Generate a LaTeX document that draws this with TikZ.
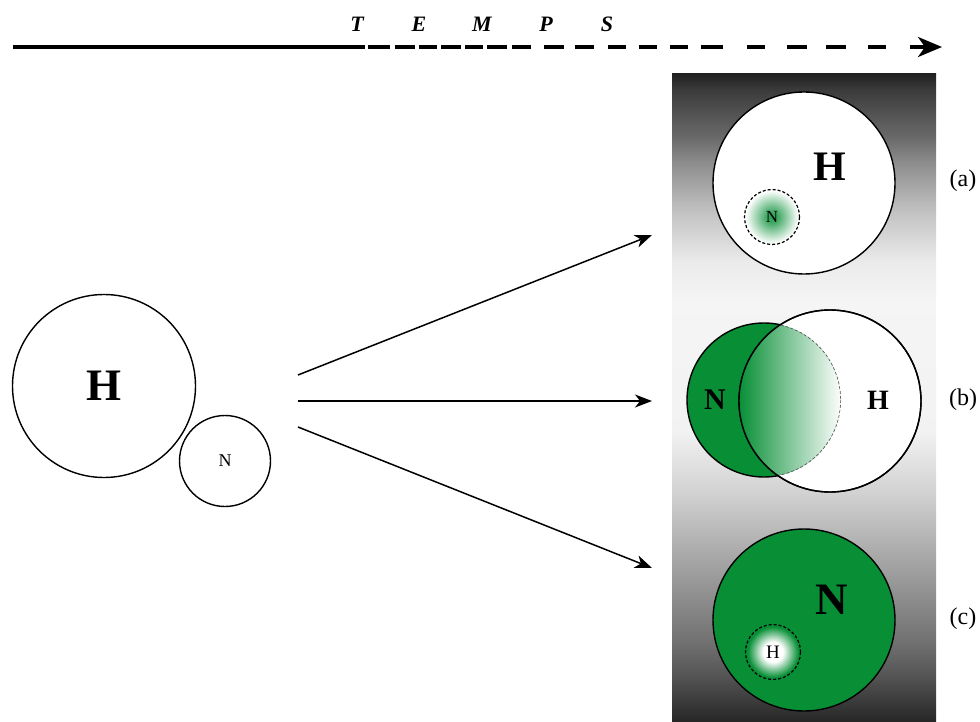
\documentclass[tikz,border=0pt]{standalone}
\usepackage{fontspec}
\setmainfont{Liberation Serif}
\usetikzlibrary{arrows.meta}
\definecolor{mygreen}{RGB}{8,143,54}
\pgfdeclareverticalshading{panelshade}{100bp}{color(0bp)=(black!85); color(25bp)=(black!85); color(29bp)=(black!65); color(31.1bp)=(black!56); color(37.5bp)=(black!35); color(42.6bp)=(black!18); color(47.5bp)=(black!5); color(57.5bp)=(black!4); color(60.5bp)=(black!8); color(64.4bp)=(black!24); color(68.2bp)=(black!45); color(70bp)=(black!58); color(73.8bp)=(black!77); color(75bp)=(black!87); color(100bp)=(black!87)}
\pgfdeclareradialshading{greenglow}{\pgfpoint{0bp}{0bp}}{color(0bp)=(mygreen!85!white); color(5bp)=(mygreen!78!white); color(24bp)=(white); color(50bp)=(white)}
\pgfdeclareradialshading{whiteglow}{\pgfpoint{0bp}{0bp}}{color(0bp)=(white); color(9bp)=(white); color(23bp)=(mygreen); color(50bp)=(mygreen)}
\tikzset{
  ring/.style={circle, draw=black, line width=1.4pt, inner sep=0pt},
  dotring/.style={draw=black, line width=1.2pt, dash pattern=on 3pt off 2pt},
  flow/.style={line width=1.5pt, -{Stealth[length=17pt,width=13pt,inset=5pt]}},
  timeline/.style={line width=3.2pt},
  letter/.style={font=\fontsize{22}{24}\selectfont\bfseries\itshape},
  tag/.style={font=\fontsize{24}{26}\selectfont}
}
\begin{document}
\begin{tikzpicture}[x=1pt,y=-1pt]
\useasboundingbox (0,0) rectangle (980,722);

% time axis
\coordinate (t0) at (13,47);
\coordinate (t1) at (365,47);
\coordinate (t2) at (368,47);
\coordinate (t3) at (942,47);
\draw[timeline] (t0) -- (t1);
\draw[timeline, dash pattern=on 22pt off 5pt on 20pt off 4pt on 18pt off 4pt on 20pt off 4pt on 18pt off 4pt on 20pt off 5pt on 19pt off 13pt on 20pt off 11pt on 19pt off 14pt on 18pt off 13pt on 18pt off 13pt on 18pt off 13pt on 22pt off 24pt on 18pt off 22pt on 20pt off 19pt on 20pt off 22pt on 18pt off 24pt on 60pt,
  -{Stealth[length=24pt,width=20pt,inset=7pt]}] (t2) -- (t3);
\node[letter] (lT) at (357,24) {T};
\node[letter] (lE) at (419,24) {E};
\node[letter] (lM) at (482,24) {M};
\node[letter] (lP) at (546,24) {P};
\node[letter] (lS) at (607,24) {S};

% panel
\shade[shading=panelshade] (672,74) rectangle (936,722);

% left pair
\node[ring, minimum size=183pt, font=\fontsize{45}{48}\selectfont\bfseries] (H0) at (104,386) {H};
\node[ring, minimum size=91pt, font=\fontsize{18}{20}\selectfont] (N0) at (225,461) {N};

% arrows
\coordinate (A0) at (298,375);
\coordinate (A1) at (652,235);
\coordinate (B0) at (298,401);
\coordinate (B1) at (652,401);
\coordinate (C0) at (298,427);
\coordinate (C1) at (652,568);
\draw[flow] (A0) -- (A1);
\draw[flow] (B0) -- (B1);
\draw[flow] (C0) -- (C1);

% (a)
\node[ring, fill=white, minimum size=182pt] (Ha) at (804,183) {};
\node[font=\fontsize{42}{44}\selectfont\bfseries] (Hal) at (830,167) {H};
\shade[shading=greenglow] (772,217) circle (27.5);
\draw[dotring] (772,217) circle (27.5);
\node[font=\fontsize{17}{19}\selectfont] (Nal) at (772,217) {N};
\node[tag] (ta) at (963,181) {(a)};

% (b)
\node[ring, fill=mygreen, minimum size=154pt] (Nb) at (764,400) {};
\node[ring, fill=white, minimum size=182pt] (Hb) at (830,401) {};
\begin{scope}
  \clip (764,400) circle (77);
  \clip (830,401) circle (91);
  \shade[left color=mygreen, right color=white] (739,300) rectangle (842,500);
  \draw[line width=1.4pt, draw=black!65, dash pattern=on 3pt off 2pt] (764,400) circle (77);
\end{scope}
\draw[line width=1.4pt] (830,401) circle (91);
\node[font=\fontsize{30}{32}\selectfont\bfseries] (Nbl) at (715,400) {N};
\node[font=\fontsize{28}{30}\selectfont\bfseries] (Hbl) at (878,400) {H};
\node[tag] (tb) at (963,400) {(b)};

% (c)
\node[ring, fill=mygreen, minimum size=182pt] (Nc) at (804,620) {};
\node[font=\fontsize{45}{48}\selectfont\bfseries] (Ncl) at (832,600) {N};
\shade[shading=whiteglow] (773,652) circle (27.5);
\draw[dotring] (773,652) circle (27.5);
\node[font=\fontsize{19}{21}\selectfont] (Hcl) at (773,652) {H};
\node[tag] (tc) at (963,619) {(c)};
\end{tikzpicture}
\end{document}
